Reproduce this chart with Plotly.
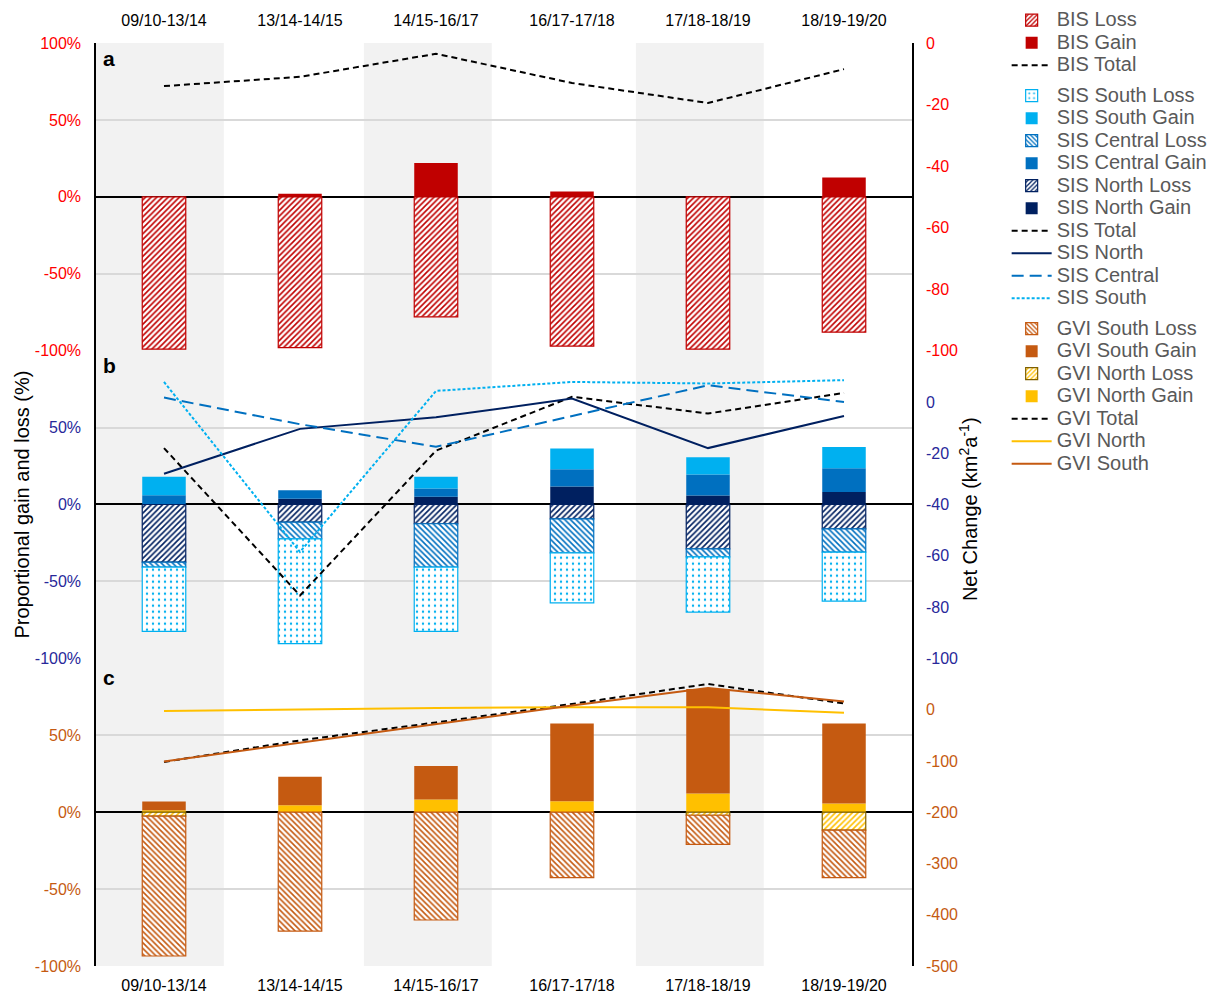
import plotly.graph_objects as go

categories = ["09/10-13/14", "13/14-14/15", "14/15-16/17", "16/17-17/18", "17/18-18/19", "18/19-19/20"]
xpos = list(range(len(categories)))

# Panel a: BIS (%, left) and net change (km2/a, right)
bis_loss = [-99, -98, -78, -97, -99, -88]
bis_gain = [0, 2, 22, 3.5, 0, 12.5]
bis_total = [-14, -11, -3.5, -13, -19.5, -8.5]

# Panel b: SIS
sis_north_gain = [0, 3.7, 5, 11.7, 5.8, 8.2]
sis_central_gain = [6, 5.6, 5.4, 11.2, 13.7, 15.4]
sis_south_gain = [12, 0, 7.6, 13.5, 11.2, 13.8]
sis_north_loss = [-37.5, -11.5, -12.5, -9.3, -28.8, -15.8]
sis_central_loss = [-3.2, -10.8, -28.2, -22.1, -5.2, -15.2]
sis_south_loss = [-41.8, -68.2, -41.8, -32.5, -35.9, -31.8]
sis_total = [-18, -75.5, -19, 2, -4.5, 3.5]
sis_north = [-28, -10.5, -6, 1.3, -18, -5.5]
sis_central = [1.7, -8.7, -17.5, -5.5, 6.5, 0]
sis_south = [7.8, -58.5, 4.3, 7.8, 7.2, 8.5]

# Panel c: GVI
gvi_north_gain = [1.3, 4.5, 8.2, 7.1, 12.1, 5.6]
gvi_south_gain = [5.6, 18.5, 21.8, 50.5, 68, 52]
gvi_north_loss = [-2.6, 0, 0, 0, -2, -11.7]
gvi_south_loss = [-90.9, -77.3, -70.1, -42.6, -19, -30.9]
gvi_total = [-102, -60, -25, 11, 50, 12]
gvi_north = [-2.6, 0.6, 3.3, 4.5, 4.5, -6]
gvi_south = [-101, -65, -29, 8, 42, 16]

FONT = "Liberation Sans, Arial, sans-serif"
RED = "#C00000"
LBLUE = "#00B0F0"
MBLUE = "#0070C0"
NAVY = "#002060"
ORANGE = "#C55A11"
YELLOW = "#FFC000"
BW = 0.32


def lname(s):
    return f'<span style="font-size:20px">{s}</span>'


def nz(vals):
    # a zero-height bar is not drawn
    return [v if v != 0 else None for v in vals]


fig = go.Figure()


def loss_bar(y, name, color, shape, yaxis, group, rank, border=None, size=4, sol=0.4):
    fig.add_trace(go.Bar(
        x=xpos, y=nz(y), name=lname(name), width=BW, yaxis=yaxis,
        legendgroup=group, legendrank=rank,
        marker=dict(color=color,
                    pattern=dict(shape=shape, fgcolor=color, bgcolor="white",
                                 size=size, solidity=sol, fillmode="replace"),
                    line=dict(color=border or color, width=1.2)),
        hoverinfo="skip"))


def gain_bar(y, name, color, yaxis, group, rank):
    fig.add_trace(go.Bar(
        x=xpos, y=nz(y), name=lname(name), width=BW, yaxis=yaxis,
        legendgroup=group, legendrank=rank,
        marker=dict(color=color, line=dict(width=0)), hoverinfo="skip"))


def line(y, name, color, dash, yaxis, group, rank, width=2):
    fig.add_trace(go.Scatter(
        x=xpos, y=y, name=lname(name), mode="lines", yaxis=yaxis,
        legendgroup=group, legendrank=rank,
        line=dict(color=color, dash=dash, width=width), hoverinfo="skip"))


# Panel a
loss_bar(bis_loss, "BIS Loss", RED, "/", "y", "BIS", 1)
gain_bar(bis_gain, "BIS Gain", RED, "y", "BIS", 2)
line(bis_total, "BIS Total", "black", "6px,4px", "y4", "BIS", 3)

# Panel b (stack order: north, central, south)
gain_bar(sis_north_gain, "SIS North Gain", NAVY, "y2", "SIS", 9)
gain_bar(sis_central_gain, "SIS Central Gain", MBLUE, "y2", "SIS", 7)
gain_bar(sis_south_gain, "SIS South Gain", LBLUE, "y2", "SIS", 5)
loss_bar(sis_north_loss, "SIS North Loss", NAVY, "/", "y2", "SIS", 8)
loss_bar(sis_central_loss, "SIS Central Loss", MBLUE, "\\", "y2", "SIS", 6)
loss_bar(sis_south_loss, "SIS South Loss", LBLUE, ".", "y2", "SIS", 4, size=6, sol=0.12)
line(sis_total, "SIS Total", "black", "6px,4px", "y5", "SIS", 10)
line(sis_north, "SIS North", NAVY, "solid", "y5", "SIS", 11)
line(sis_central, "SIS Central", MBLUE, "12px,6px", "y5", "SIS", 12)
line(sis_south, "SIS South", LBLUE, "3px,2px", "y5", "SIS", 13)

# Panel c (stack order: north, south)
gain_bar(gvi_north_gain, "GVI North Gain", YELLOW, "y3", "GVI", 17)
gain_bar(gvi_south_gain, "GVI South Gain", ORANGE, "y3", "GVI", 15)
loss_bar(gvi_north_loss, "GVI North Loss", YELLOW, "/", "y3", "GVI", 16, border="#7F6000")
loss_bar(gvi_south_loss, "GVI South Loss", ORANGE, "\\", "y3", "GVI", 14)
line(gvi_total, "GVI Total", "black", "6px,4px", "y6", "GVI", 18)
line(gvi_north, "GVI North", YELLOW, "solid", "y6", "GVI", 19)
line(gvi_south, "GVI South", ORANGE, "solid", "y6", "GVI", 20)

# invisible trace to carry the top category axis
fig.add_trace(go.Scatter(x=xpos, y=[None] * len(xpos), xaxis="x2", yaxis="y",
                         showlegend=False, hoverinfo="skip"))

GRID = "#D9D9D9"
LEFTC = ["#FF0000", "#28289A", ORANGE]
RIGHTC = ["#FF0000", "#28289A", ORANGE]


def left_axis(domain, color, tickvals):
    return dict(domain=domain, range=[-100, 100], anchor="x",
                tickvals=tickvals, ticktext=[f"{v}%" for v in tickvals],
                tickfont=dict(size=16, color=color, family=FONT),
                showgrid=True, gridcolor=GRID, gridwidth=1.5,
                zeroline=True, zerolinecolor="black", zerolinewidth=1.5,
                showline=True, linecolor="black", linewidth=1.5,
                ticks="", ticklabelstandoff=10, fixedrange=True, automargin=False)


def right_axis(over, rng, tickvals, color):
    return dict(overlaying=over, side="right", anchor="x", range=rng,
                tickvals=tickvals, ticktext=[str(v) for v in tickvals],
                tickfont=dict(size=16, color=color, family=FONT),
                showgrid=False, zeroline=False,
                showline=True, linecolor="black", linewidth=1.5,
                ticks="", ticklabelstandoff=9, fixedrange=True, automargin=False)


third = 1 / 3
bands = [(-0.5, 0.44), (1.47, 2.41), (3.47, 4.41)]
shapes = [dict(type="rect", xref="x", yref="paper", x0=a, x1=b, y0=0, y1=1,
               fillcolor="#F2F2F2", line=dict(width=0), layer="below") for a, b in bands]

annotations = [
    dict(text="<b>a</b>", x=0.006, y=0.9837, xref="paper", yref="paper",
         xanchor="left", yanchor="middle", showarrow=False, font=dict(size=21, color="black", family=FONT)),
    dict(text="<b>b</b>", x=0.006, y=0.651, xref="paper", yref="paper",
         xanchor="left", yanchor="middle", showarrow=False, font=dict(size=21, color="black", family=FONT)),
    dict(text="<b>c</b>", x=0.006, y=0.313, xref="paper", yref="paper",
         xanchor="left", yanchor="middle", showarrow=False, font=dict(size=21, color="black", family=FONT)),
    dict(text="Proportional gain and loss (%)", x=-0.0907, y=0.5, xref="paper", yref="paper",
         xanchor="center", yanchor="middle", textangle=-90, showarrow=False,
         font=dict(size=20, color="black", family=FONT)),
    dict(text="Net Change (km<sup>2</sup>a<sup>-1</sup>)", x=1.0686, y=0.495, xref="paper", yref="paper",
         xanchor="center", yanchor="middle", textangle=-90, showarrow=False,
         font=dict(size=20, color="black", family=FONT)),
]

fig.update_layout(
    width=1220, height=994,
    margin=dict(l=96, r=308, t=43, b=28, autoexpand=False),
    paper_bgcolor="white", plot_bgcolor="white",
    barmode="relative",
    font=dict(family=FONT, color="black"),
    showlegend=True,
    legend=dict(x=1.116, y=1.0423, xanchor="left", yanchor="top",
                font=dict(size=15, color="#595959", family=FONT),
                traceorder="grouped", tracegroupgap=8, itemwidth=40,
                bgcolor="rgba(0,0,0,0)"),
    xaxis=dict(domain=[0, 1], range=[-0.5, 5.5], anchor="y3",
               tickvals=xpos, ticktext=categories,
               tickfont=dict(size=16, color="black", family=FONT),
               showgrid=False, zeroline=False, showline=False, ticks="",
               ticklabelstandoff=8, fixedrange=True, automargin=False),
    xaxis2=dict(overlaying="x", matches="x", anchor="y", side="top",
                range=[-0.5, 5.5], tickvals=xpos, ticktext=categories,
                tickfont=dict(size=16, color="black", family=FONT),
                showgrid=False, zeroline=False, showline=False, ticks="",
                ticklabelstandoff=13, fixedrange=True, automargin=False),
    yaxis=left_axis([2 * third, 1], LEFTC[0], [100, 50, 0, -50, -100]),
    yaxis2=left_axis([third, 2 * third], LEFTC[1], [50, 0, -50, -100]),
    yaxis3=left_axis([0, third], LEFTC[2], [50, 0, -50, -100]),
    yaxis4=right_axis("y", [-100, 0], [0, -20, -40, -60, -80, -100], RIGHTC[0]),
    yaxis5=right_axis("y2", [-100, 20], [0, -20, -40, -60, -80, -100], RIGHTC[1]),
    yaxis6=right_axis("y3", [-500, 100], [0, -100, -200, -300, -400, -500], RIGHTC[2]),
    shapes=shapes,
    annotations=annotations,
)

fig.write_html("out.html")
